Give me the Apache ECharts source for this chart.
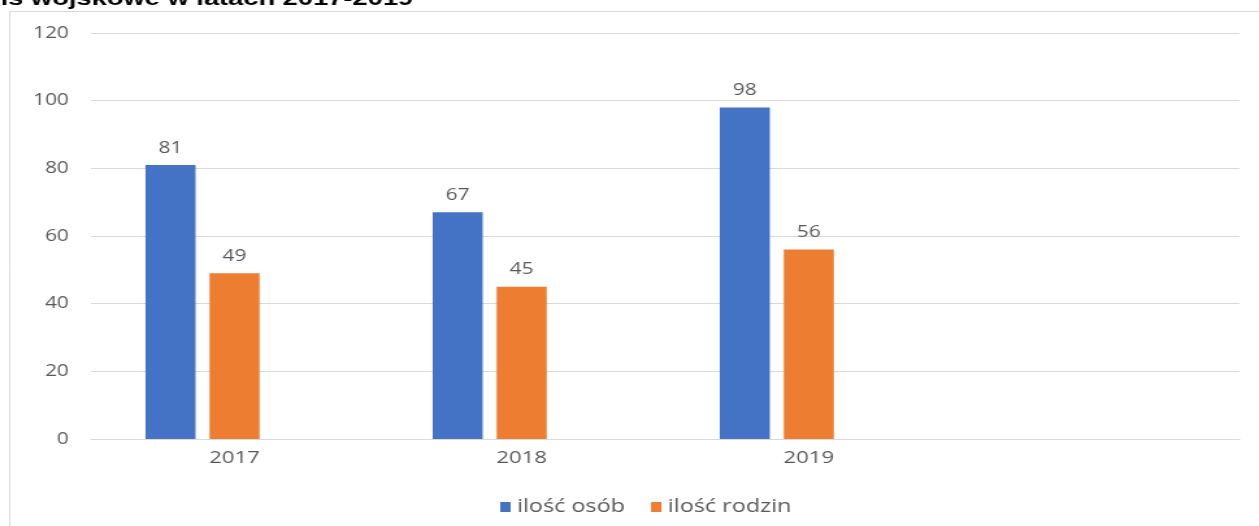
<!DOCTYPE html>
<html>
<head>
<meta charset="utf-8">
<script src="https://cdn.jsdelivr.net/npm/echarts@6/dist/echarts.min.js"></script>
<style>
html,body{margin:0;padding:0;background:#fff;overflow:hidden;width:1259px;height:526px;}
#chart{width:969px;height:526px;transform:scaleX(1.2993);transform-origin:0 0;}
</style>
</head>
<body>
<div id="chart"></div>
<script>
const categories = ['2017', '2018', '2019', ''];
const seriesNames = ['ilość osób', 'ilość rodzin'];
const osoby = [81, 67, 98, null];
const rodziny = [49, 45, 56, null];
const yTicks = [0, 20, 40, 60, 80, 100, 120];
const titleText = 'ls wojskowe w latach 2017-2019';

const chart = echarts.init(document.getElementById('chart'));
const labelStyle = {show: true, position: 'top', distance: 9, color: '#595959', fontSize: 16, fontFamily: 'Open Sans'};
chart.setOption({
  animation: false,
  textStyle: {fontFamily: 'Open Sans'},
  graphic: [
    {type: 'rect', shape: {x: 7.5, y: 11.5, width: 1300, height: 600}, style: {fill: 'none', stroke: '#d9d9d9', lineWidth: 1}, z: 0},
    {type: 'text', x: 318, y: 10, style: {text: titleText, fill: '#000', font: 'bold 21px "Liberation Sans"', textAlign: 'right', textVerticalAlign: 'bottom'}}
  ],
  legend: {
    top: 493, left: 380, itemWidth: 8, itemHeight: 10, itemGap: 20,
    icon: 'rect', data: seriesNames,
    textStyle: {color: '#595959', fontSize: 18, fontFamily: 'Open Sans'}
  },
  grid: {left: 70, right: 15, top: 33, bottom: 87, containLabel: false},
  xAxis: {
    type: 'category', data: categories,
    axisLine: {lineStyle: {color: '#d9d9d9'}}, axisTick: {show: false},
    axisLabel: {color: '#595959', fontSize: 17, margin: 11}
  },
  yAxis: {
    type: 'value', min: 0, max: 120, interval: 20,
    axisLine: {show: false}, axisTick: {show: false},
    axisLabel: {color: '#595959', fontSize: 16, margin: 17, formatter: v => yTicks.includes(v) ? String(v) : ''},
    splitLine: {lineStyle: {color: '#d9d9d9'}}
  },
  series: [
    {name: seriesNames[0], type: 'bar', data: osoby, barWidth: 38.5, barGap: '28%', itemStyle: {color: '#4472C4'}, label: labelStyle},
    {name: seriesNames[1], type: 'bar', data: rodziny, barWidth: 38.5, barGap: '28%', itemStyle: {color: '#ED7D31'}, label: labelStyle},
    {name: '_empty', type: 'bar', data: [null, null, null, null], barWidth: 38.5, barGap: '28%', itemStyle: {color: '#A5A5A5'}}
  ]
});
</script>
</body>
</html>
